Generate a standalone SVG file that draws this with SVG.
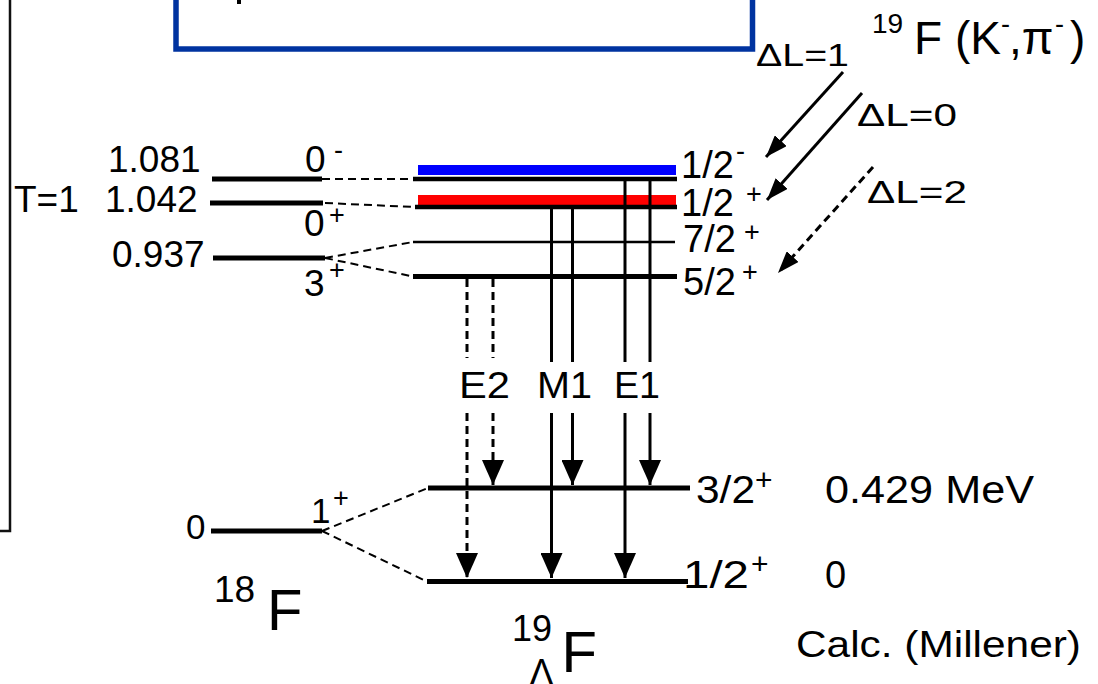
<svg xmlns="http://www.w3.org/2000/svg" width="1098" height="684" viewBox="0 0 1098 684">
<style>
text{font-family:"Liberation Sans",Arial,Helvetica,sans-serif;fill:#000}
.t37{font-size:37px}
.t38{font-size:38px}
.t36{font-size:36px}
.t35{font-size:35px}
.t32{font-size:32px}
.sup{font-size:27px}
.lvl{stroke:#000;stroke-width:5;fill:none}
.lvl4{stroke:#000;stroke-width:4.5;fill:none}
.thin{stroke:#000;stroke-width:2.5;fill:none}
.dash{stroke:#000;stroke-width:2;stroke-dasharray:8 5;fill:none}
.vs{stroke:#000;stroke-width:3;fill:none}
.vd{stroke:#000;stroke-width:3;stroke-dasharray:8 5;fill:none}
</style>
<defs>
<marker id="va" viewBox="0 0 25 22" refX="25" refY="11" markerWidth="25" markerHeight="22" markerUnits="userSpaceOnUse" orient="auto"><path d="M0,0 L25,11 L0,22 z" fill="#000"/></marker>
<marker id="da" viewBox="0 0 22 16" refX="22" refY="8" markerWidth="22" markerHeight="16" markerUnits="userSpaceOnUse" orient="auto"><path d="M0,0 L22,8 L0,16 z" fill="#000"/></marker>
</defs>
<rect fill="#fff" width="1098" height="684"/>
<g id="frame">
<polyline points="10,0 10,531 0,531" fill="none" stroke="#111" stroke-width="2.5"/>
<rect x="176" y="-20" width="576.5" height="69" fill="none" stroke="#0033a0" stroke-width="5.5"/>
<rect x="237" y="0" width="4" height="4" fill="#000"/>
</g>
<g id="F18-levels">
<line class="lvl" x1="212" y1="179" x2="322" y2="179"/>
<line class="lvl" x1="210" y1="203" x2="323" y2="203"/>
<line class="lvl" x1="213" y1="258" x2="325" y2="258"/>
<line class="lvl" x1="211" y1="531" x2="322" y2="531"/>
<text class="t37" x="108" y="172">1.081</text>
<text class="t37" x="105" y="212">1.042</text>
<text class="t37" x="14" y="212">T=1</text>
<text class="t37" x="112" y="267">0.937</text>
<text class="t37" x="305" y="172">0<tspan class="sup" x="334" y="159">-</tspan></text>
<text class="t37" x="304" y="236">0<tspan class="sup" x="329" y="224">+</tspan></text>
<text class="t37" x="304" y="296">3<tspan class="sup" x="329" y="279">+</tspan></text>
<text class="t35" x="186" y="539">0</text>
<text class="t35" x="311" y="523">1<tspan class="sup" x="333" y="507">+</tspan></text>
<text class="t37" x="214" y="602">18<tspan x="267" y="630" style="font-size:58px">F</tspan></text>
</g>
<g id="LF19-levels">
<rect x="418" y="165" width="258" height="10" fill="#0000ff"/>
<line class="lvl4" x1="413" y1="179" x2="677" y2="179"/>
<rect x="418" y="195" width="258" height="10" fill="#ff0000"/>
<line class="lvl4" x1="415" y1="207" x2="677" y2="207"/>
<line class="thin" x1="413" y1="242" x2="675" y2="242"/>
<line class="lvl" x1="413" y1="276.5" x2="677" y2="276.5"/>
<line class="lvl" x1="428" y1="488" x2="690" y2="488"/>
<line class="lvl" x1="427" y1="581.5" x2="688" y2="581.5"/>
<text class="t38" x="681" y="178">1/2<tspan class="sup" x="736" y="160">-</tspan></text>
<text class="t38" x="681" y="216">1/2<tspan class="sup" x="746" y="203">+</tspan></text>
<text class="t38" x="683" y="252">7/2<tspan class="sup" x="744" y="241">+</tspan></text>
<text class="t38" x="683" y="295">5/2<tspan class="sup" x="742" y="281">+</tspan></text>
<text class="t38" x="696" y="503" textLength="59" lengthAdjust="spacingAndGlyphs">3/2</text><text x="755" y="490" style="font-size:30px">+</text>
<text class="t38" x="683" y="588" textLength="66" lengthAdjust="spacingAndGlyphs">1/2</text><text x="751" y="574" style="font-size:30px">+</text>
<text class="t38" x="825" y="503" textLength="209" lengthAdjust="spacingAndGlyphs">0.429 MeV</text>
<text class="t38" x="825" y="588">0</text>
<text class="t36" x="796" y="657" textLength="285" lengthAdjust="spacingAndGlyphs">Calc. (Millener)</text>
<text class="t36" x="512" y="641">19<tspan x="529.5" y="685">Λ</tspan><tspan x="561.5" y="672" style="font-size:58px">F</tspan></text>
</g>
<g id="reaction">
<text x="872" y="33" style="font-size:28px">19<tspan x="914" y="54" style="font-size:46px">F (K</tspan><tspan class="sup" x="1001" y="33">-</tspan><tspan x="1009" y="54" style="font-size:46px">,π</tspan><tspan class="sup" x="1055" y="33">-</tspan><tspan x="1070" y="54" style="font-size:46px">)</tspan></text>
<text class="t32" x="756" y="66" textLength="93" lengthAdjust="spacingAndGlyphs">ΔL=1</text>
<text class="t32" x="857" y="126" textLength="100" lengthAdjust="spacingAndGlyphs">ΔL=0</text>
<text class="t32" x="867" y="203" textLength="100" lengthAdjust="spacingAndGlyphs">ΔL=2</text>
</g>
<g id="multipolarity">
<text x="459" y="398" style="font-size:37px" textLength="51" lengthAdjust="spacingAndGlyphs">E2</text>
<text x="537" y="398" style="font-size:37px" textLength="55" lengthAdjust="spacingAndGlyphs">M1</text>
<text x="614" y="398" style="font-size:37px" textLength="46" lengthAdjust="spacingAndGlyphs">E1</text>
</g>
<g id="connectors">
<line class="dash" x1="322" y1="179" x2="413" y2="179"/>
<line class="dash" x1="325" y1="203" x2="415" y2="207"/>
<line class="dash" x1="325" y1="258" x2="413" y2="242"/>
<line class="dash" x1="325" y1="258" x2="413" y2="276.5"/>
<line class="dash" x1="322" y1="531" x2="428" y2="488"/>
<line class="dash" x1="322" y1="531" x2="427" y2="581.5"/>
<line class="vd" x1="467" y1="279" x2="467" y2="358"/>
<line class="vd" x1="467" y1="413" x2="467" y2="578" marker-end="url(#va)"/>
<line class="vd" x1="493" y1="279" x2="493" y2="358"/>
<line class="vd" x1="493" y1="413" x2="493" y2="485" marker-end="url(#va)"/>
<line class="vs" x1="551.5" y1="207" x2="551.5" y2="362"/>
<line class="vs" x1="551.5" y1="413" x2="551.5" y2="578" marker-end="url(#va)"/>
<line class="vs" x1="572.5" y1="207" x2="572.5" y2="362"/>
<line class="vs" x1="572.5" y1="413" x2="572.5" y2="485" marker-end="url(#va)"/>
<line class="vs" x1="625" y1="179" x2="625" y2="362"/>
<line class="vs" x1="625" y1="413" x2="625" y2="578" marker-end="url(#va)"/>
<line class="vs" x1="650" y1="179" x2="650" y2="362"/>
<line class="vs" x1="650" y1="413" x2="650" y2="485" marker-end="url(#va)"/>
<line class="vs" x1="843" y1="72" x2="766" y2="157" marker-end="url(#da)"/>
<line class="vs" x1="862" y1="93" x2="767" y2="200" marker-end="url(#da)"/>
<line class="vd" x1="873" y1="167" x2="778" y2="273" marker-end="url(#da)"/>
</g>
</svg>
